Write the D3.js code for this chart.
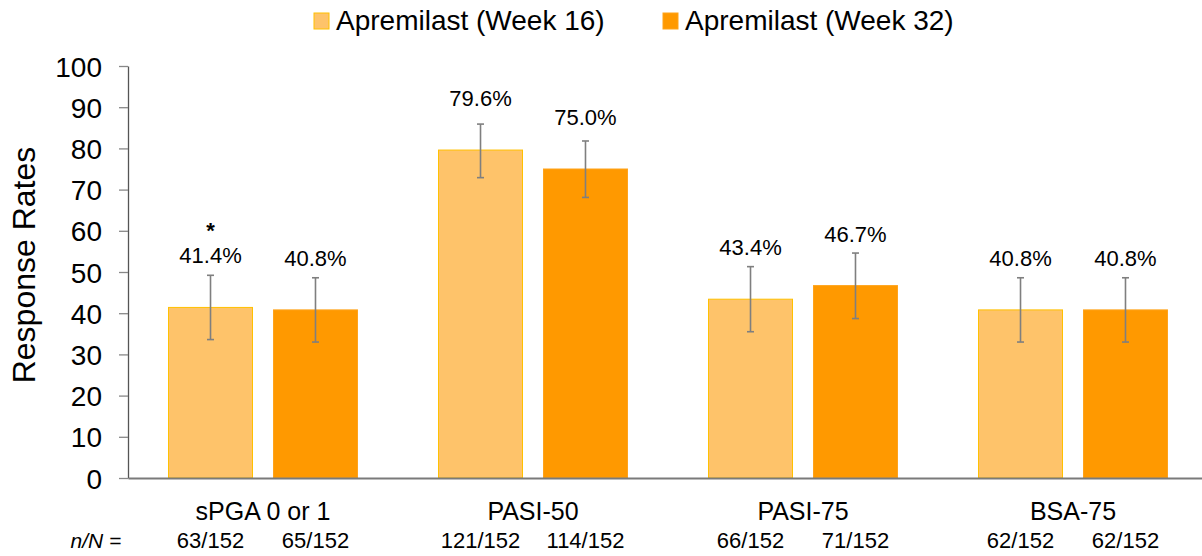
<!DOCTYPE html>
<html>
<head>
<meta charset="utf-8">
<script src="https://cdn.jsdelivr.net/npm/d3@7"></script>
<style>
  html, body { margin: 0; padding: 0; background: #fff; }
  svg { display: block; font-family: "Liberation Sans", Arial, Helvetica, sans-serif; }
</style>
</head>
<body>
<svg id="chart" width="1202" height="556"></svg>
<script>
const categories = ["sPGA 0 or 1", "PASI-50", "PASI-75", "BSA-75"];
const seriesNames = ["Apremilast (Week 16)", "Apremilast (Week 32)"];
const week16 = [41.4, 79.6, 43.4, 40.8];
const week32 = [40.8, 75.0, 46.7, 40.8];
const week16Low = [33.6, 72.9, 35.5, 33.0];
const week16High = [49.2, 85.9, 51.3, 48.6];
const week32Low = [33.0, 68.1, 38.7, 33.0];
const week32High = [48.6, 81.8, 54.6, 48.6];
const week16N = ["63/152", "121/152", "66/152", "62/152"];
const week32N = ["65/152", "114/152", "71/152", "62/152"];
const asterisk = [true, false, false, false];
const yTicks = [0, 10, 20, 30, 40, 50, 60, 70, 80, 90, 100];
const yTitle = "Response Rates";
const nLabel = "n/N =";

const fills = ["#FEC36A", "#FF9900"];
const strokes = ["#FFC000", "#FFA31A"];

const svg = d3.select("#chart");

const x = d3.scaleBand().domain(categories).range([128, 1208]).paddingInner(0).paddingOuter(0);
const xs = d3.scaleBand().domain(seriesNames).range([0, x.bandwidth()]).paddingInner(0.2).paddingOuter(0.386);
const y = d3.scaleLinear().domain([0, 100]).range([478, 66]);

const rows = [];
categories.forEach((c, i) => {
  rows.push({cat: c, s: seriesNames[0], si: 0, v: week16[i], lo: week16Low[i], hi: week16High[i], n: week16N[i], star: asterisk[i]});
  rows.push({cat: c, s: seriesNames[1], si: 1, v: week32[i], lo: week32Low[i], hi: week32High[i], n: week32N[i], star: false});
});
const cx = d => x(d.cat) + xs(d.s) + xs.bandwidth() / 2;

// Y axis
const yAxis = d3.axisLeft(y).tickValues(yTicks).tickSize(9).tickPadding(17).tickSizeOuter(0);
const gy = svg.append("g").attr("transform", "translate(128,0)").call(yAxis);
gy.select(".domain").attr("stroke", "#555").attr("stroke-width", 1.3);
gy.selectAll(".tick line").attr("stroke", "#888").attr("stroke-width", 1.3);
gy.selectAll(".tick text").attr("fill", "#000").style("font-size", "28px").attr("dy", "0.36em");

// Bars
svg.append("g").selectAll("rect").data(rows).join("rect")
  .attr("x", d => x(d.cat) + xs(d.s))
  .attr("y", d => y(d.v))
  .attr("width", xs.bandwidth())
  .attr("height", d => y(0) - y(d.v))
  .attr("fill", d => fills[d.si])
  .attr("stroke", d => strokes[d.si])
  .attr("stroke-width", 1);

// X axis line
const xAxis = d3.axisBottom(x).tickSize(0).tickFormat("");
const gx = svg.append("g").attr("transform", `translate(0,${y(0)})`).call(xAxis);
gx.select(".domain").attr("stroke", "#7a7a7a").attr("stroke-width", 2.2);

// Error bars
const eb = svg.append("g").attr("stroke", "#7f7f7f").attr("stroke-width", 1.6);
eb.selectAll("line.v").data(rows).join("line").attr("class", "v")
  .attr("x1", cx).attr("x2", cx).attr("y1", d => y(d.lo)).attr("y2", d => y(d.hi));
eb.selectAll("line.t").data(rows).join("line").attr("class", "t")
  .attr("x1", d => cx(d) - 3.5).attr("x2", d => cx(d) + 3.5).attr("y1", d => y(d.hi)).attr("y2", d => y(d.hi));
eb.selectAll("line.b").data(rows).join("line").attr("class", "b")
  .attr("x1", d => cx(d) - 3.5).attr("x2", d => cx(d) + 3.5).attr("y1", d => y(d.lo)).attr("y2", d => y(d.lo));

// Value labels
const fmt = d3.format(".1f");
svg.append("g").selectAll("text").data(rows).join("text")
  .attr("x", cx).attr("y", d => y(d.v) - 44)
  .attr("text-anchor", "middle").style("font-size", "22px").attr("fill", "#000")
  .text(d => fmt(d.v) + "%");
svg.append("g").selectAll("text").data(rows.filter(d => d.star)).join("text")
  .attr("x", cx).attr("y", d => y(d.v) - 69)
  .attr("text-anchor", "middle").style("font-size", "22px").style("font-weight", "bold").attr("fill", "#000")
  .text("*");

// Category labels
svg.append("g").selectAll("text").data(categories).join("text")
  .attr("x", d => x(d) + x.bandwidth() / 2).attr("y", 520)
  .attr("text-anchor", "middle").style("font-size", "25px").attr("fill", "#000")
  .text(d => d);

// n/N labels
svg.append("text").attr("x", 96).attr("y", 548).attr("text-anchor", "middle")
  .style("font-size", "21px").style("font-style", "italic").attr("fill", "#000").text(nLabel);
svg.append("g").selectAll("text").data(rows).join("text")
  .attr("x", cx).attr("y", 548)
  .attr("text-anchor", "middle").style("font-size", "22px").attr("fill", "#000")
  .text(d => d.n);

// Y title
svg.append("text").attr("transform", `translate(35,${(y(0) + y(100)) / 2 - 7}) rotate(-90)`)
  .attr("text-anchor", "middle").style("font-size", "32px").attr("fill", "#000")
  .text(yTitle);

// Legend
const legendX = [314, 663];
const lg = svg.append("g").selectAll("g").data(seriesNames).join("g")
  .attr("transform", (d, i) => `translate(${legendX[i]},13)`);
lg.append("rect").attr("width", 15).attr("height", 16)
  .attr("fill", (d, i) => fills[i]).attr("stroke", (d, i) => strokes[i]).attr("stroke-width", 1);
lg.append("text").attr("x", 22).attr("y", 17).style("font-size", "28px").attr("fill", "#000")
  .text(d => d);
</script>
</body>
</html>
